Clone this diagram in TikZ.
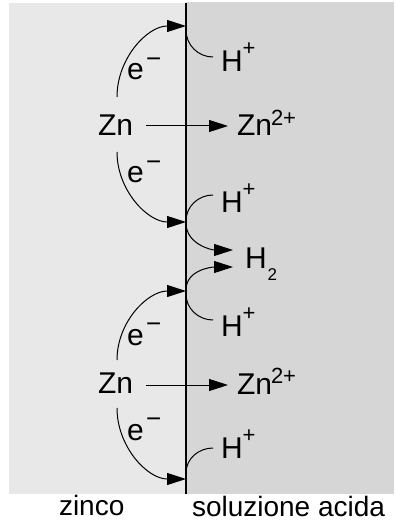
\documentclass[tikz,border=0pt]{standalone}
\usepackage{fontspec}
\setmainfont{Liberation Sans}
\usetikzlibrary{arrows.meta}
\definecolor{zincgray}{HTML}{E8E8E8}
\definecolor{acidgray}{HTML}{D6D6D6}
\newcommand\supfont[2]{\raisebox{#1}{\fontsize{22}{22}\selectfont #2}}
\newcommand\minusup{\kern2.5pt\raisebox{12.5pt}{\fontsize{26}{26}\selectfont −}}
\newcommand\subtwo{\raisebox{-12pt}{\fontsize{17}{17}\selectfont 2}}
\begin{document}
\begin{tikzpicture}[x=1pt,y=-1pt,
  lab/.style={inner sep=0pt,outer sep=0pt,anchor=base west,font=\fontsize{30}{30}\selectfont},
  botlab/.style={inner sep=0pt,outer sep=0pt,anchor=base west,font=\fontsize{28}{28}\selectfont},
  thin/.style={line width=1pt,black},
  arr/.style={thin,-{Triangle[length=19pt,width=12pt]}},
  wallline/.style={line width=2.2pt,black}]
\useasboundingbox (0,0) rectangle (394,521);
% regions
\fill[zincgray] (9,3) rectangle (186,494);
\fill[acidgray] (186,2) rectangle (394,494);
\coordinate (wtop) at (186,3);
\coordinate (wbot) at (186,494);
\draw[wallline] (wtop) -- (wbot);

% labels
\node[lab] (zn1) at (98,136) {Zn};
\node[lab] (znp1) at (237,136) {Zn\kern-1pt\supfont{10.5pt}{2+}};
\node[lab] (e1) at (127,80) {e\minusup};
\node[lab] (e2) at (127,183) {e\minusup};
\node[lab] (h1) at (221,72) {H\supfont{16pt}{+}};
\node[lab] (h2) at (221,212) {H\supfont{16pt}{+}};
\node[lab] (hmol) at (245,268) {H\kern1pt\subtwo};
\node[lab] (h3) at (221,336) {H\supfont{16pt}{+}};
\node[lab] (e3) at (127,345) {e\minusup};
\node[lab] (zn2) at (98,393) {Zn};
\node[lab] (znp2) at (237,394) {Zn\kern-1pt\supfont{10.5pt}{2+}};
\node[lab] (e4) at (127,440) {e\minusup};
\node[lab] (h4) at (221,458) {H\supfont{16pt}{+}};
\node[botlab] (zinco) at (59,515) {zinco};
\node[botlab] (sol) at (192,516) {soluzione acida};

% connector end points
\coordinate (a1) at (117,97);  \coordinate (w1) at (186,26);
\coordinate (a2) at (117,152); \coordinate (w2) at (186,222);
\coordinate (a3) at (117,360); \coordinate (w3) at (186,291);
\coordinate (a4) at (117,408); \coordinate (w4) at (186,479);
\coordinate (zs1) at (146,126); \coordinate (zt1) at (228,126);
\coordinate (zs2) at (146,385); \coordinate (zt2) at (228,385);
\coordinate (wh1) at (186,30);  \coordinate (hk1) at (213,57);
\coordinate (wh2) at (186,221); \coordinate (hk2) at (213,195);
\coordinate (wh3) at (186,294); \coordinate (hk3) at (213,320);
\coordinate (wh4) at (186,473); \coordinate (hk4) at (213,448);
\coordinate (wm1) at (186,223); \coordinate (tm1) at (233,250);
\coordinate (wm2) at (186,290); \coordinate (tm2) at (233,267);

% electron arcs
\draw[arr] (a1) to[out=90,in=180] (w1);
\draw[arr] (a2) to[out=-90,in=180] (w2);
\draw[arr] (a3) to[out=90,in=180] (w3);
\draw[arr] (a4) to[out=-90,in=180] (w4);
% zinc ions
\draw[arr] (zs1) -- (zt1);
\draw[arr] (zs2) -- (zt2);
% H+ hooks
\draw[thin] (wh1) to[out=-90,in=180] (hk1);
\draw[thin] (hk2) to[out=180,in=90] (wh2);
\draw[thin] (wh3) to[out=-90,in=180] (hk3);
\draw[thin] (hk4) to[out=180,in=90] (wh4);
% H2 formation
\draw[arr] (wm1) to[out=-90,in=180] (tm1);
\draw[arr] (wm2) to[out=90,in=180] (tm2);
\end{tikzpicture}
\end{document}
